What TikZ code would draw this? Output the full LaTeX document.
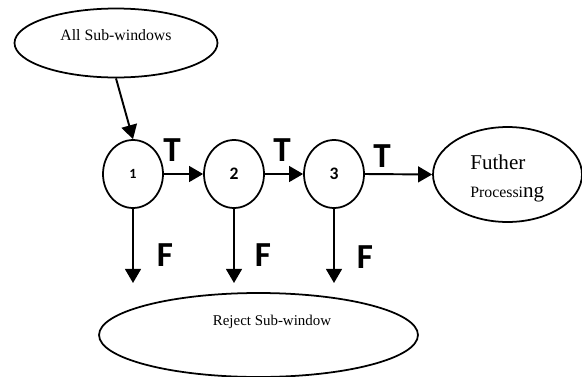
\documentclass[tikz,border=0pt]{standalone}
\usepackage{fontspec}
\setmainfont{Liberation Serif}
\newfontfamily\boldsans{Carlito}
\usetikzlibrary{shapes.geometric,arrows.meta}

\tikzset{
  oval/.style={draw, ellipse, line width=1pt, inner sep=0pt},
  stage/.style={oval, minimum width=1.2cm, minimum height=1.36cm, font=\boldsans\bfseries},
  flow/.style={-{Triangle[length=8pt,width=9pt]}, line width=1.1pt},
  tf/.style={font=\boldsans\bfseries\fontsize{20}{20}\selectfont}
}

\begin{document}
\begin{tikzpicture}[x=0.02cm, y=-0.02cm]
        \useasboundingbox (0,0) rectangle (582,376);
        \node[oval, minimum width=4.06cm, minimum height=1.38cm] (all) at (116,43) {};
        \node[font=\fontsize{9}{11}\selectfont] (alltext) at (116,35) {All Sub-windows};
        \node[stage] (s1) at (133,174) {\fontsize{8}{9}\selectfont 1};
        \node[stage] (s2) at (234,174) {\fontsize{10}{12}\selectfont 2};
        \node[stage] (s3) at (334,174) {\fontsize{10}{12}\selectfont 3};
        \node[oval, minimum width=2.98cm, minimum height=1.9cm] (further) at (507.5,174.5) {};
        \node[anchor=base west, inner sep=0pt, font=\fontsize{12}{14}\selectfont] (ftext) at (470,169) {Futher};
        \node[anchor=base west, inner sep=0pt] (ptext) at (470,197) {\fontsize{9}{11}\selectfont Processi\fontsize{12}{14}\selectfont ng};
        \node[oval, minimum width=6.38cm, minimum height=1.68cm] (reject) at (258.5,335) {};
        \node[font=\fontsize{8.5}{10}\selectfont] (rtext) at (272,322) {Reject Sub-window};
        \draw[flow] (all.south) -- (s1.north);
        \draw[flow] (s1.east) -- (s2.west);
        \draw[flow] (s2.east) -- (s3.west);
        \draw[flow] (s3.east) -- (further.west);
        \coordinate (r1) at (133,283);
        \coordinate (r2) at (234,283);
        \coordinate (r3) at (334,283);
        \draw[flow] (s1.south) -- (r1);
        \draw[flow] (s2.south) -- (r2);
        \draw[flow] (s3.south) -- (r3);
        \node[tf] (t1) at (172,150) {T};
        \node[tf] (t2) at (282,150) {T};
        \node[tf] (t3) at (382,156) {T};
        \node[tf] (f1) at (165,255) {F};
        \node[tf] (f2) at (263,255) {F};
        \node[tf] (f3) at (365,257) {F};
    \end{tikzpicture}
\end{document}
